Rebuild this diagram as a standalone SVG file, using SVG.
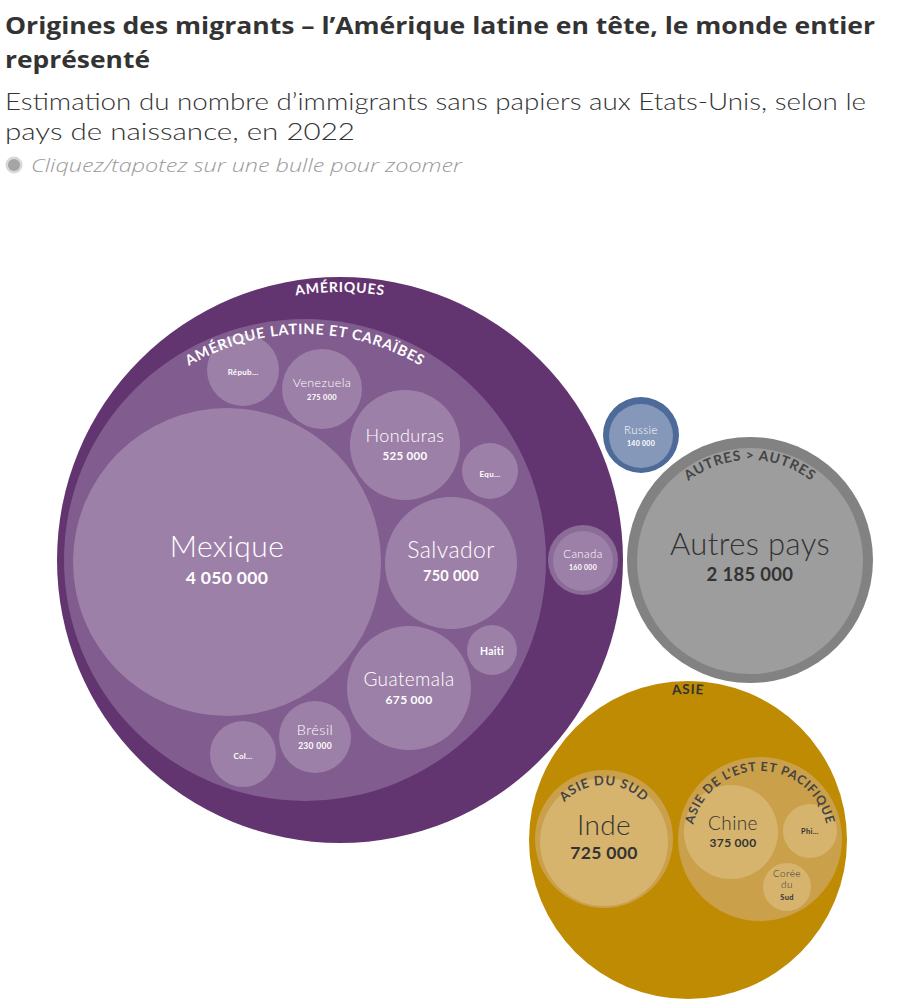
<svg xmlns="http://www.w3.org/2000/svg" width="897" height="1000" viewBox="0 0 897 1000">
<style>
text{font-family:Lato,"Open Sans","Liberation Sans",sans-serif}
.hd{font-family:"Open Sans",Lato,"Liberation Sans",sans-serif}
.title{font-size:24px;font-weight:700;fill:#333}
.sub{font-family:Lato,"Open Sans","Liberation Sans",sans-serif;font-size:24px;font-weight:300;fill:#333}
.hint{font-size:19px;font-weight:300;font-style:italic;fill:#999}
.w{fill:#fff;text-anchor:middle}
.d{fill:#333;text-anchor:middle}
.l{font-weight:300;letter-spacing:0.4px}
.b{font-weight:700;letter-spacing:0.3px}
.arcw{fill:#fff;font-weight:700;letter-spacing:0.8px}
.arcd{fill:#444;font-weight:700;letter-spacing:0.8px}
.amer{fill:#633570}
.latin{fill:#815c8e}
.bub{fill:#9d80a8}
.asia{fill:#bf8b02}
.asiag{fill:#cba04a}
.asiab{fill:#d6b46e}
</style>
<defs>
<path id="arcAmer" d="M72,560 A268,268 0 0 1 608,560"/>
<path id="arcLatin" d="M79,560 A226,226 0 0 1 531,560"/>
<path id="arcAutres" d="M650,560 A100,100 0 0 1 850,560"/>
<path id="arcAsie" d="M542,840 A146,146 0 0 1 834,840"/>
<path id="arcSud" d="M550,839 A54,54 0 0 1 658,839"/>
<path id="arcEst" d="M692,839 A68,68 0 0 1 828,839"/>
</defs>
<rect width="897" height="1000" fill="#fff"/>
<g id="header">
<text class="hd title" x="5" y="34" textLength="870" lengthAdjust="spacingAndGlyphs">Origines des migrants – l’Amérique latine en tête, le monde entier</text>
<text class="hd title" x="5" y="68" textLength="145" lengthAdjust="spacingAndGlyphs">représenté</text>
<text class="sub" x="5" y="110" textLength="861" lengthAdjust="spacingAndGlyphs">Estimation du nombre d’immigrants sans papiers aux Etats-Unis, selon le</text>
<text class="sub" x="5" y="140" textLength="350" lengthAdjust="spacingAndGlyphs">pays de naissance, en 2022</text>
<circle cx="14" cy="165" r="8.5" fill="#d8d8d8"/>
<circle cx="14" cy="165" r="6" fill="#a5a5a5"/>
<text class="hd hint" x="31" y="172" textLength="431" lengthAdjust="spacingAndGlyphs">Cliquez/tapotez sur une bulle pour zoomer</text>
</g>
<g id="ameriques">
<circle class="amer" cx="340" cy="560" r="283"/>
<text class="arcw" font-size="14"><textPath href="#arcAmer" startOffset="50%" text-anchor="middle">AMÉRIQUES</textPath></text>
<g id="amerique-latine">
<circle class="latin" cx="305" cy="560" r="241"/>
<g id="mexique">
<circle class="bub" cx="227" cy="562" r="154"/>
<text class="w l" x="227" y="557" font-size="30">Mexique</text>
<text class="w b" x="227" y="584" font-size="17.5">4 050 000</text>
</g>
<g id="republique">
<circle class="bub" cx="243" cy="370" r="36"/>
<text class="w b" x="243" y="375" font-size="8">Répub…</text>
</g>
<g id="venezuela">
<circle class="bub" cx="322" cy="389" r="40"/>
<text class="w l" x="322" y="387" font-size="12.5">Venezuela</text>
<text class="w b" x="322" y="400" font-size="7.5">275 000</text>
</g>
<g id="honduras">
<circle class="bub" cx="405" cy="445" r="55"/>
<text class="w l" x="405" y="442" font-size="18">Honduras</text>
<text class="w b" x="405" y="460" font-size="11.5">525 000</text>
</g>
<g id="equateur">
<circle class="bub" cx="490" cy="471" r="28"/>
<text class="w b" x="490" y="477" font-size="8">Equ…</text>
</g>
<g id="salvador">
<circle class="bub" cx="451" cy="563" r="66"/>
<text class="w l" x="451" y="558" font-size="23">Salvador</text>
<text class="w b" x="451" y="581" font-size="14.5">750 000</text>
</g>
<g id="haiti">
<circle class="bub" cx="492" cy="650" r="25"/>
<text class="w b" x="492" y="655" font-size="10.5">Haiti</text>
</g>
<g id="guatemala">
<circle class="bub" cx="409" cy="688" r="62"/>
<text class="w l" x="409" y="686" font-size="19">Guatemala</text>
<text class="w b" x="409" y="704" font-size="12">675 000</text>
</g>
<g id="bresil">
<circle class="bub" cx="315" cy="737" r="36"/>
<text class="w l" x="315" y="735" font-size="14.5">Brésil</text>
<text class="w b" x="315" y="749" font-size="8.5">230 000</text>
</g>
<g id="colombie">
<circle class="bub" cx="243" cy="754" r="33"/>
<text class="w b" x="243" y="759" font-size="8">Col…</text>
</g>
<text class="arcw" font-size="14.5"><textPath href="#arcLatin" startOffset="50%" text-anchor="middle">AMÉRIQUE LATINE ET CARAÏBES</textPath></text>
</g>
<g id="canada">
<circle cx="583" cy="560" r="35" fill="#8b6b97"/>
<circle class="bub" cx="583" cy="561" r="30"/>
<text class="w l" x="583" y="558" font-size="11.5">Canada</text>
<text class="w b" x="583" y="570" font-size="7">160 000</text>
</g>
</g>
<g id="russie">
<circle cx="641" cy="435" r="38" fill="#4d6a98"/>
<circle cx="641" cy="436" r="32" fill="#8598b9"/>
<text class="w l" x="641" y="434" font-size="11.5">Russie</text>
<text class="w b" x="641" y="446" font-size="7">140 000</text>
</g>
<g id="autres">
<circle cx="750" cy="560" r="123" fill="#828282"/>
<circle cx="750" cy="561" r="113" fill="#9d9d9d"/>
<text class="arcd" font-size="14"><textPath href="#arcAutres" startOffset="50%" text-anchor="middle">AUTRES &gt; AUTRES</textPath></text>
<text class="d l" x="750" y="555" font-size="31">Autres pays</text>
<text class="d b" x="750" y="581" font-size="18.5">2 185 000</text>
</g>
<g id="asie">
<circle class="asia" cx="688" cy="840" r="159"/>
<text class="arcd" font-size="13.5" style="fill:#333"><textPath href="#arcAsie" startOffset="50%" text-anchor="middle">ASIE</textPath></text>
<g id="asie-du-sud">
<circle class="asiag" cx="604" cy="839" r="69"/>
<g id="inde">
<circle class="asiab" cx="604" cy="842" r="64"/>
<text class="d l" x="604" y="835" font-size="28">Inde</text>
<text class="d b" x="604" y="859" font-size="17.5">725 000</text>
</g>
<text class="arcd" font-size="13"><textPath href="#arcSud" startOffset="50%" text-anchor="middle">ASIE DU SUD</textPath></text>
</g>
<g id="asie-est">
<circle class="asiag" cx="760" cy="839" r="82"/>
<g id="chine">
<circle class="asiab" cx="731" cy="832" r="47"/>
<text class="d l" x="733" y="830" font-size="19">Chine</text>
<text class="d b" x="733" y="847" font-size="12">375 000</text>
</g>
<g id="philippines">
<circle class="asiab" cx="810" cy="831" r="27"/>
<text class="d b" x="810" y="834" font-size="7.5">Phi…</text>
</g>
<g id="coree">
<circle class="asiab" cx="787" cy="887" r="24"/>
<text class="d l" x="787" y="877" font-size="10">Corée</text>
<text class="d l" x="787" y="888" font-size="10">du</text>
<text class="d b" x="787" y="900" font-size="7.5">Sud</text>
</g>
<text class="arcd" font-size="12.5"><textPath href="#arcEst" startOffset="50%" text-anchor="middle">ASIE DE L’EST ET PACIFIQUE</textPath></text>
</g>
</g>
</svg>
